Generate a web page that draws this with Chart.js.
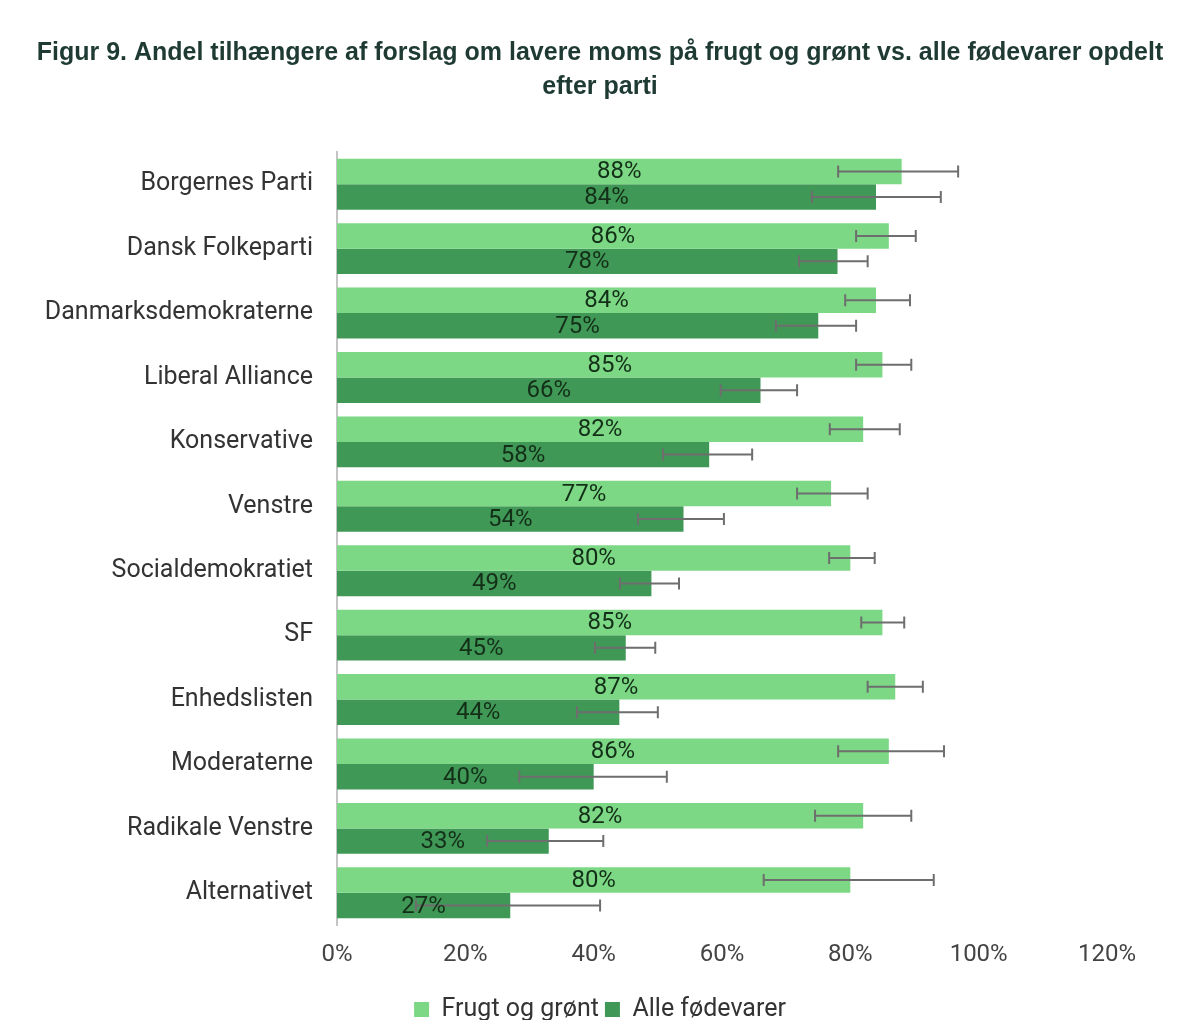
<!DOCTYPE html>
<html>
<head>
<meta charset="utf-8">
<script src="https://cdn.jsdelivr.net/npm/chart.js@4.4.1/dist/chart.umd.min.js"></script>
<style>
  html, body { margin: 0; padding: 0; background: #fff; }
  #wrap { width: 1200px; height: 1020px; }
</style>
</head>
<body>
<div id="wrap"><canvas id="myChart" width="1200" height="1020"></canvas></div>
<script>
const partier = [
  "Borgernes Parti", "Dansk Folkeparti", "Danmarksdemokraterne", "Liberal Alliance",
  "Konservative", "Venstre", "Socialdemokratiet", "SF", "Enhedslisten",
  "Moderaterne", "Radikale Venstre", "Alternativet"
];

const frugtOgGroent = [88, 86, 84, 85, 82, 77, 80, 85, 87, 86, 82, 80];
const alleFoedevarer = [84, 78, 75, 66, 58, 54, 49, 45, 44, 40, 33, 27];

// konfidensintervaller (lav / høj), aflæst af figuren
const frugtLav = [78.1, 80.9, 79.2, 80.9, 76.8, 71.7, 76.7, 81.7, 82.7, 78.1, 74.5, 66.5];
const frugtHoej = [96.8, 90.2, 89.3, 89.5, 87.7, 82.7, 83.8, 88.4, 91.3, 94.6, 89.5, 93.0];
const alleLav = [74.0, 72.0, 68.4, 59.8, 50.8, 46.9, 44.1, 40.2, 37.4, 28.4, 23.4, 12.3];
const alleHoej = [94.1, 82.7, 80.9, 71.7, 64.7, 60.3, 53.3, 49.6, 50.0, 51.4, 41.5, 41.0];

const xTicks = [0, 20, 40, 60, 80, 100, 120];

const titelLinjer = [
  "Figur 9. Andel tilhængere af forslag om lavere moms på frugt og grønt vs. alle fødevarer opdelt",
  "efter parti",
];

const errorBars = [
  { low: frugtLav, high: frugtHoej },
  { low: alleLav, high: alleHoej },
];

const titlePlugin = {
  id: "figTitle",
  afterDraw(chart) {
    const ctx = chart.ctx;
    ctx.save();
    ctx.font = "bold 25px 'Liberation Sans'";
    ctx.fillStyle = "#1e3a33";
    ctx.textAlign = "center";
    ctx.textBaseline = "middle";
    ctx.fillText(titelLinjer[0], chart.width / 2, 53);
    ctx.fillText(titelLinjer[1], chart.width / 2, 87);
    ctx.restore();
  },
};

const errorBarPlugin = {
  id: "errorBars",
  afterDatasetsDraw(chart) {
    const ctx = chart.ctx;
    const xScale = chart.scales.x;
    ctx.save();
    ctx.strokeStyle = "#6e6e6e";
    ctx.lineWidth = 2;
    chart.data.datasets.forEach((ds, i) => {
      const meta = chart.getDatasetMeta(i);
      meta.data.forEach((bar, j) => {
        const x1 = xScale.getPixelForValue(errorBars[i].low[j]);
        const x2 = xScale.getPixelForValue(errorBars[i].high[j]);
        const y = bar.y;
        ctx.beginPath();
        ctx.moveTo(x1, y);
        ctx.lineTo(x2, y);
        ctx.moveTo(x1, y - 6);
        ctx.lineTo(x1, y + 6);
        ctx.moveTo(x2, y - 6);
        ctx.lineTo(x2, y + 6);
        ctx.stroke();
      });
    });
    ctx.restore();
  },
};

const valueLabelPlugin = {
  id: "valueLabels",
  afterDatasetsDraw(chart) {
    const ctx = chart.ctx;
    ctx.save();
    ctx.font = "24px Roboto";
    ctx.fillStyle = "#132f18";
    ctx.textAlign = "center";
    ctx.textBaseline = "middle";
    chart.data.datasets.forEach((ds, i) => {
      const meta = chart.getDatasetMeta(i);
      meta.data.forEach((bar, j) => {
        const cx = (bar.x + bar.base) / 2;
        ctx.fillText(ds.data[j] + "%", cx, bar.y + 1);
      });
    });
    ctx.restore();
  },
};

//*** chart
const ctx = document.getElementById("myChart");
new Chart(ctx, {
  type: "bar",
  data: {
    labels: partier,
    datasets: [
      {
        label: "Frugt og grønt",
        data: frugtOgGroent,
        backgroundColor: "#7cd884",
        borderWidth: 0,
      },
      {
        label: "Alle fødevarer",
        data: alleFoedevarer,
        backgroundColor: "#409856",
        borderWidth: 0,
      },
    ],
  },
  options: {
    indexAxis: "y",
    responsive: false,
    animation: false,
    datasets: {
      bar: { categoryPercentage: 0.79, barPercentage: 1.0 },
    },
    layout: {
      padding: { left: 0, right: 0, top: 152, bottom: -12 },
    },
    scales: {
      x: {
        min: 0,
        max: 120,
        afterBuildTicks(scale) {
          scale.ticks = xTicks.map((v) => ({ value: v }));
        },
        afterFit(scale) {
          scale.height = 66;
        },
        grid: { display: false, drawTicks: false },
        border: { display: false },
        ticks: {
          padding: 16,
          color: "#444",
          font: { family: "Roboto", size: 24 },
          callback: (v) => v + "%",
        },
      },
      y: {
        afterFit(scale) {
          scale.width = 337;
        },
        grid: { display: false, drawTicks: false },
        border: { display: true, color: "#c4c4c4", width: 2 },
        ticks: {
          padding: 24,
          color: "#333",
          font: { family: "Roboto", size: 25 },
        },
      },
      // tom akse i højre side, så 120% ender ved samme sted som i figuren
      yRight: {
        position: "right",
        afterFit(scale) {
          scale.width = 93;
        },
        grid: { display: false, drawTicks: false },
        border: { display: false },
        ticks: { display: false },
      },
    },
    plugins: {
      title: { display: false },
      legend: {
        position: "bottom",
        labels: {
          boxWidth: 15,
          boxHeight: 15,
          padding: 6,
          color: "#333",
          font: { family: "Roboto", size: 25 },
        },
      },
      tooltip: { enabled: false },
    },
  },
  plugins: [errorBarPlugin, valueLabelPlugin, titlePlugin],
});
</script>
</body>
</html>
